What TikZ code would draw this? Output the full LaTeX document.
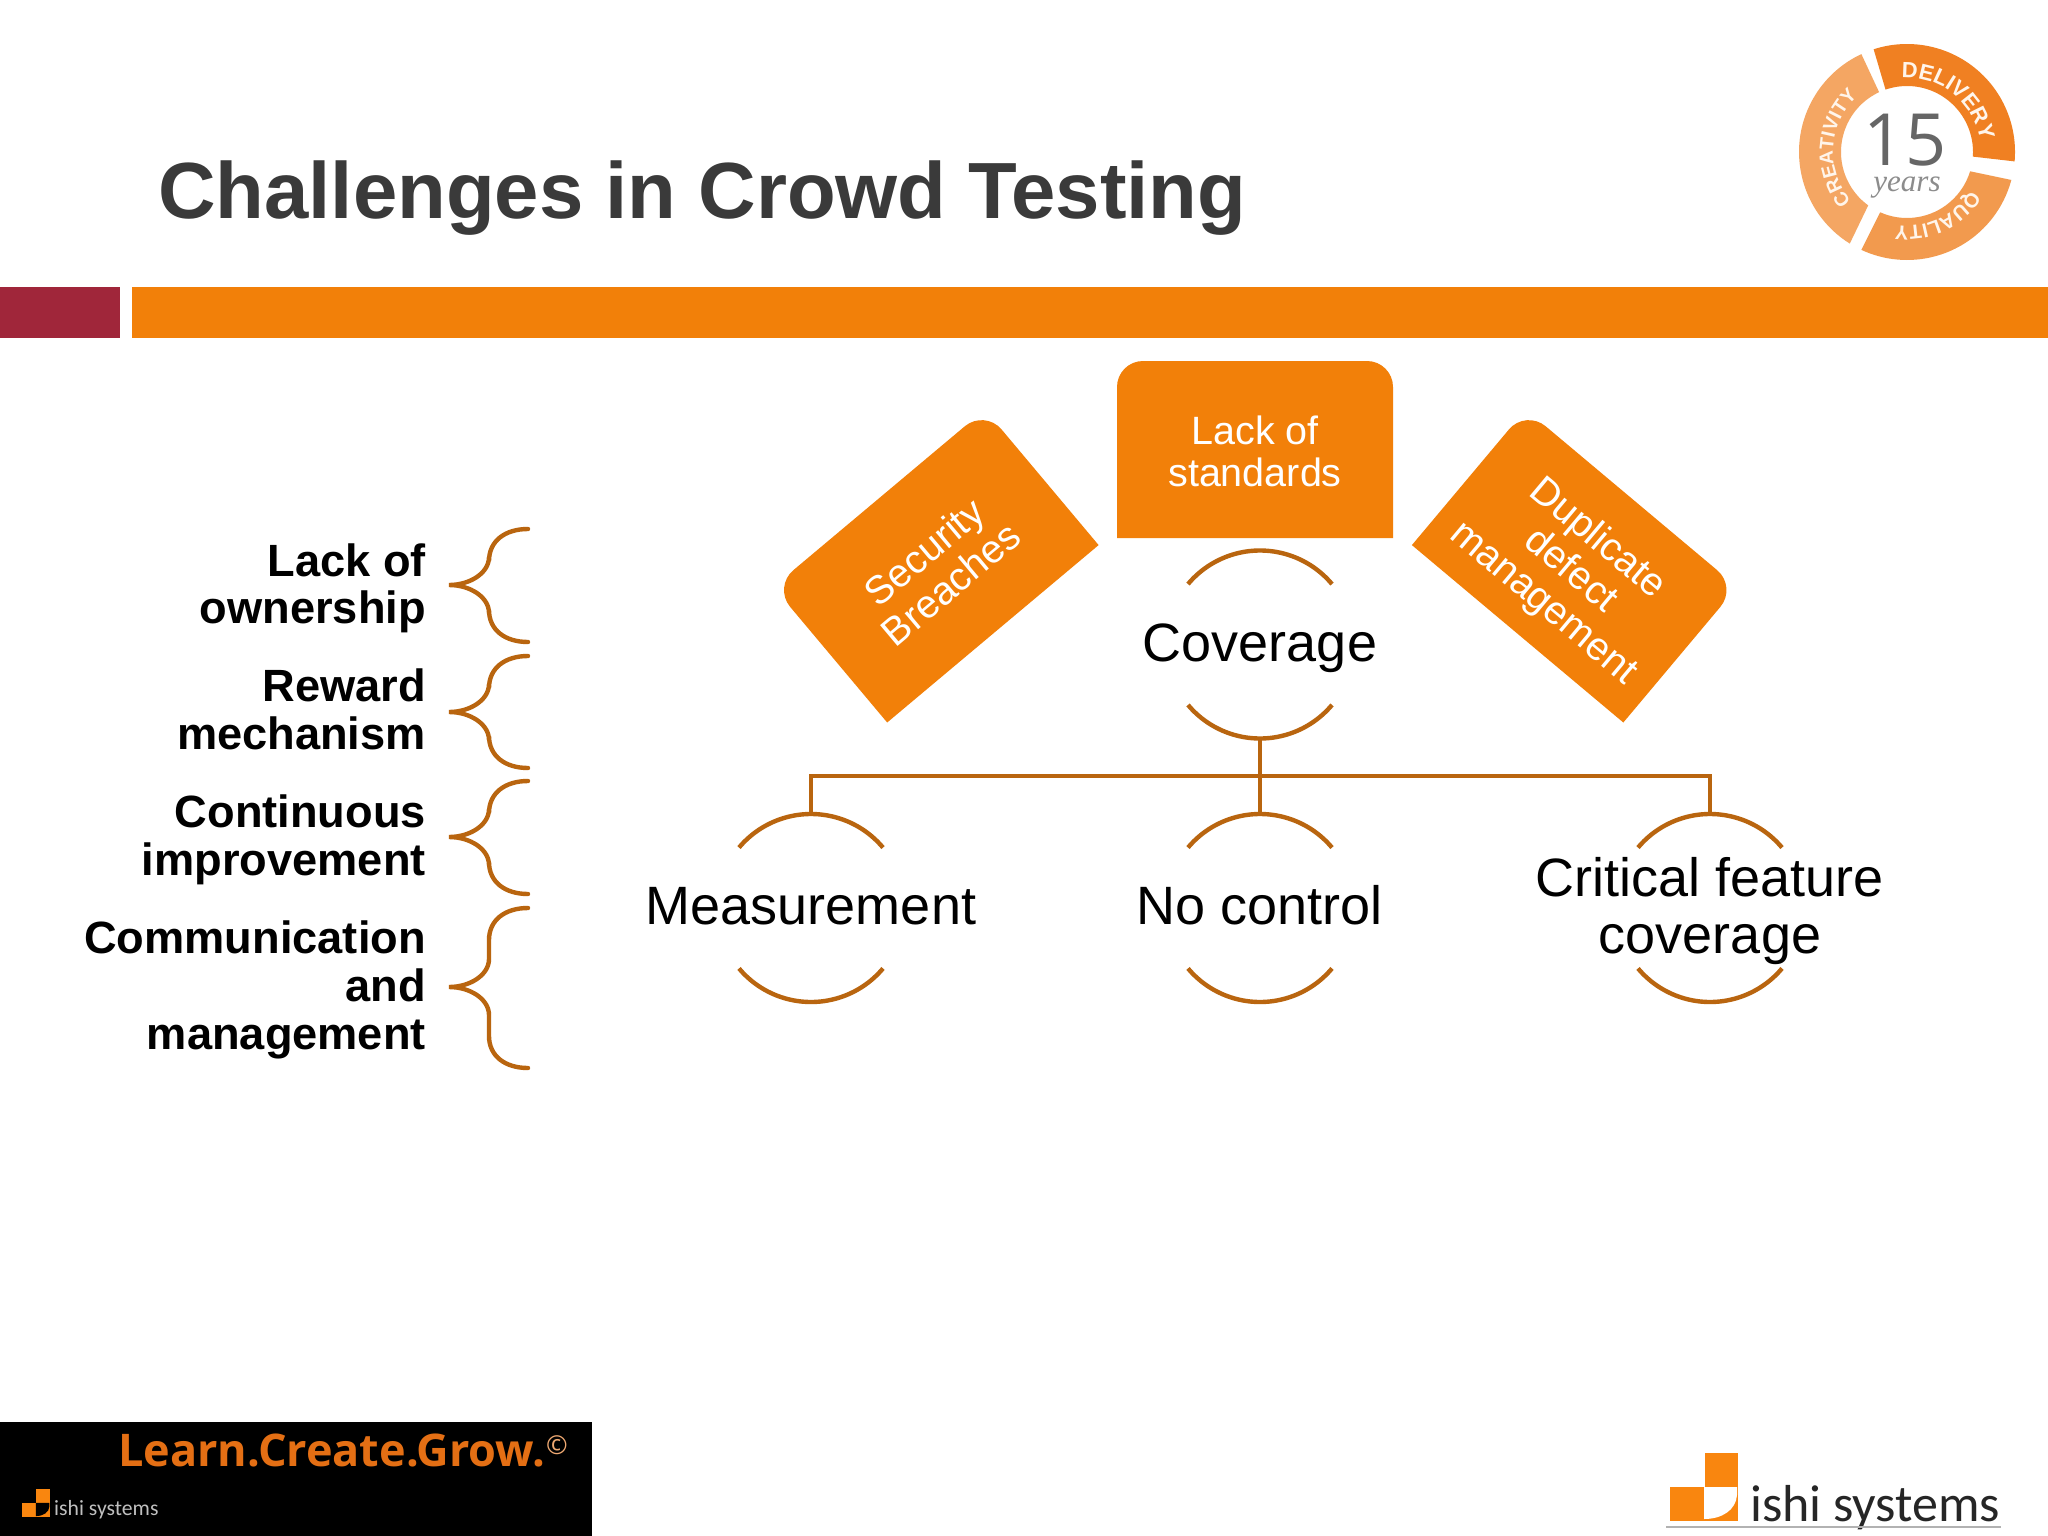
\documentclass[tikz,border=0pt]{standalone}
\usepackage{fontspec}
\setmainfont{Liberation Sans}
\newfontfamily\logofont{Open Sans}
\newfontfamily\namefont{Carlito}
\newfontfamily\yearfont{Liberation Serif}
\usetikzlibrary{decorations.text}
\definecolor{barorange}{HTML}{F28009}
\definecolor{barred}{HTML}{A0263A}
\definecolor{linebrown}{HTML}{B9650F}
\definecolor{titlegrey}{HTML}{3A3A3A}
\definecolor{segA}{HTML}{F08022}
\definecolor{segB}{HTML}{F29A4E}
\definecolor{segC}{HTML}{F4A663}
\definecolor{logoorange}{HTML}{F9860F}
\definecolor{slogan}{HTML}{E46F14}
\tikzset{
  ring/.style={circle,minimum size=188pt,inner sep=0pt,outer sep=0pt},
  ringline/.style={draw=linebrown,line width=4.4pt},
  link/.style={draw=linebrown,line width=4.4pt},
  bracestyle/.style={draw=linebrown,line width=4.4pt,line cap=round},
  bigtext/.style={align=center,inner sep=0pt,font=\fontsize{54}{57}\selectfont,text=black},
  tabtext/.style={align=center,inner sep=0pt,font=\fontsize{39.5}{42}\selectfont,text=white},
  sidetext/.style={anchor=east,align=right,inner sep=0pt,font=\bfseries\fontsize{45.2}{47.6}\selectfont,text=black},
}
\newcommand{\ringarcs}[1]{%
  \draw[ringline] (#1.140) arc[start angle=140,end angle=40,radius=94pt];
  \draw[ringline] (#1.220) arc[start angle=220,end angle=320,radius=94pt];}
\newcommand{\tabshape}[6]{% cx cy angle name text-offset text
  \begin{scope}[shift={(#1,#2)},rotate=#3]
    \fill[barorange] (-138,88.5) [rounded corners=26pt] -- (-138,-88.5) -- (138,-88.5) [sharp corners] -- (138,88.5) -- cycle;
    \node[tabtext,transform shape] (#4) at (0,#5) {#6};
  \end{scope}}
\newcommand{\bracket}[3]{% top mid bottom
  \draw[bracestyle] (528,#1) .. controls (505,#1) and (489,{#1+12}) .. (489,{#1+32})
    -- (489,{#2-28}) .. controls (489,{#2-12}) and (470,#2) .. (449,#2)
    .. controls (470,#2) and (489,{#2+12}) .. (489,{#2+28})
    -- (489,{#3-32}) .. controls (489,{#3-12}) and (505,#3) .. (528,#3);}
\newcommand{\ishimark}[1]{%
  \fill[logoorange] (35,0) rectangle (68,34);
  \fill[logoorange] (0,34) rectangle (34,68);
  \fill[logoorange] (34,34) rectangle (68,68);
  \fill[#1] (34,34) -- (67,34) -- (67,42) .. controls (66,57) and (52,66) .. (34,66) -- cycle;}
\begin{document}
\begin{tikzpicture}[x=1pt,y=-1pt]
\useasboundingbox (0,0) rectangle (2048,1536);
\fill[white] (0,0) rectangle (2048,1536);
% header
\node[anchor=base west,inner sep=0pt,font=\bfseries\fontsize{79.7}{79.7}\selectfont,text=titlegrey] (title) at (158,218.5) {Challenges in Crowd Testing};
\fill[barred] (0,287) rectangle (120,338);
\fill[barorange] (132,287) rectangle (2048,338);
% anniversary badge
\begin{scope}[shift={(1907,152)},y=1pt]
  \fill[segA] (108:108) arc[start angle=108,end angle=-5,radius=108] -- (-4:66) arc[start angle=-4,end angle=109,radius=66] -- cycle;
  \fill[segB] (-15:108) arc[start angle=-15,end angle=-115,radius=108] -- (-114:66) arc[start angle=-114,end angle=-17,radius=66] -- cycle;
  \fill[segC] (238:108) arc[start angle=238,end angle=115,radius=108] -- (115:66) arc[start angle=115,end angle=234,radius=66] -- cycle;
  \path[postaction={decorate},decoration={text along path,text align=center,text={|\bfseries\fontsize{22}{22}\selectfont\color{white!92!orange}|DELIVERY}}] (108:74) arc[start angle=108,end angle=-5,radius=74];
  \path[postaction={decorate},decoration={text along path,text align=center,text={|\bfseries\fontsize{20}{20}\selectfont\color{white!92!orange}|QUALITY}}] (-15:74) arc[start angle=-15,end angle=-115,radius=74];
  \path[postaction={decorate},decoration={text along path,text align=center,text={|\bfseries\fontsize{19.5}{19.5}\selectfont\color{white!92!orange}|CREATIVITY}}] (238:74) arc[start angle=238,end angle=115,radius=74];
  \node[anchor=center,inner sep=0pt,font=\logofont\fontsize{72}{72}\selectfont,text=black!60] (fifteen) at (-2,12) {15};
  \node[anchor=center,inner sep=0pt,font=\yearfont\itshape\fontsize{31}{31}\selectfont,text=black!45] (years) at (0,-36) {years};
\end{scope}
% side list
\node[sidetext] (s1) at (426,588.5) {Lack of\\ownership};
\node[sidetext] (s2) at (426,709.5) {Reward\\mechanism};
\node[sidetext] (s3) at (426,840) {Continuous\\improvement};
\node[sidetext] (s4) at (426,990) {Communication\\and\\management};
\bracket{529}{585}{642}
\bracket{656}{712}{768}
\bracket{781}{837}{894}
\bracket{908}{987}{1068}
% tabs
\tabshape{936}{566}{40}{tabL}{2}{Security\\Breaches}
\tabshape{1255}{449.5}{0}{tabM}{2}{Lack of\\standards}
\tabshape{1574.5}{566}{-40}{tabR}{7}{Duplicate\\defect\\management}
% rings
\node[ring] (c0) at (1260,644.5) {};
\node[ring] (c1) at (811,908) {};
\node[ring] (c2) at (1260,908) {};
\node[ring] (c3) at (1710,908) {};
\node[bigtext] (t0) at (1260,648) {Coverage};
\node[bigtext] (t1) at (811,906) {Measurement};
\node[bigtext] (t2) at (1260,905) {No control};
\node[bigtext] (t3) at (1710,911) {Critical feature\\coverage};
\ringarcs{c0}\ringarcs{c1}\ringarcs{c2}\ringarcs{c3}
\coordinate (bus) at (1260,776);
\draw[link] (c0.south) -- (bus) -| (c1.north);
\draw[link] (bus) -- (c2.north);
\draw[link] (bus) -| (c3.north);
% footer left
\fill[black] (0,1422) rectangle (592,1536);
\node[anchor=base west,inner sep=0pt,font=\logofont\bfseries\fontsize{45}{45}\selectfont,text=slogan] (slogan) at (118,1466) {Learn.Create.Grow.};
\node[anchor=base west,inner sep=0pt,font=\logofont\fontsize{26}{26}\selectfont,text=slogan!60!white] (copy) at (546,1454) {©};
\begin{scope}[shift={(22,1489)},scale=0.41]
  \ishimark{black}
\end{scope}
\node[anchor=base west,inner sep=0pt,font=\namefont\fontsize{21.7}{21.7}\selectfont,text=black!25] (sname) at (54,1515) {ishi systems};
% footer right
\begin{scope}[shift={(1670,1453)}]
  \ishimark{white}
\end{scope}
\node[anchor=base west,inner sep=0pt,font=\namefont\fontsize{52}{52}\selectfont,text=black!85] (lname) at (1750,1521) {ishi systems};
\draw[black!30,line width=1.5pt] (1666,1527) -- (2001,1527);
\end{tikzpicture}
\end{document}
